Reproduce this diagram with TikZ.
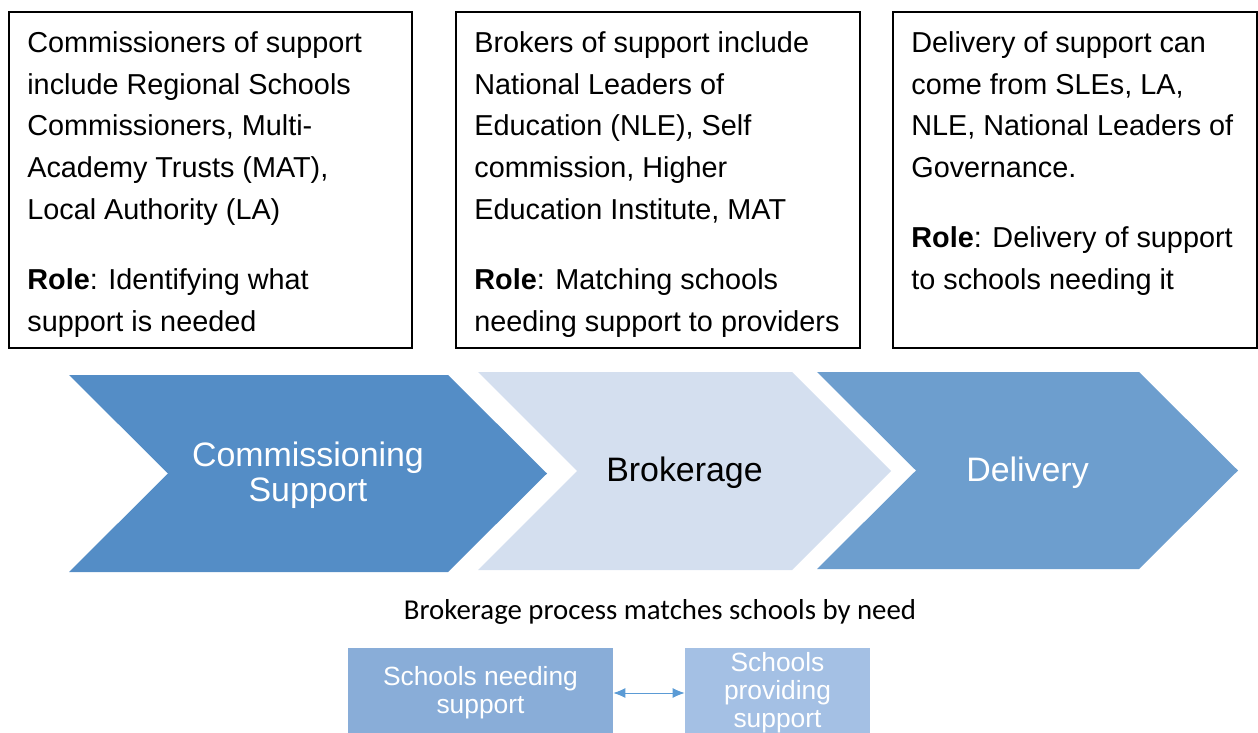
\documentclass[tikz,border=0pt]{standalone}
\usepackage{fontspec}
\setmainfont{Liberation Sans}
\newfontfamily\captionfont{Carlito}
\usetikzlibrary{arrows.meta}
\definecolor{commBlue}{HTML}{548DC6}
\definecolor{brokBlue}{HTML}{D4DFEF}
\definecolor{delivBlue}{HTML}{6D9ECE}
\definecolor{needBlue}{HTML}{89ADD8}
\definecolor{provBlue}{HTML}{A4C0E4}
\definecolor{linkBlue}{HTML}{5B9BD5}
\tikzset{
  infotext/.style={anchor=north west, align=left, inner sep=0pt,
    font=\fontsize{16.4}{23.8}\selectfont},
  stagetext/.style={align=center, inner sep=0pt,
    font=\fontsize{19.3}{19.8}\selectfont},
  schoolbox/.style={align=center, inner sep=0pt, text=white,
    font=\fontsize{15}{15.9}\selectfont}
}
\begin{document}
\begin{tikzpicture}[x=0.02cm, y=-0.02cm]
  \useasboundingbox (0,0) rectangle (1258,733);
  \newcommand{\infoBox}[4]{
    % draws a framed text box at the top
    % args:
    %     name
    %     left x
    %     right x
    %     text
    \draw[line width=0.6pt] (#2,12) rectangle (#3,348);
    \node[infotext] (#1) at (#2+18, 31) {#4};
  }
  \newcommand{\stage}[6]{
    % draws one chevron of the process
    % args:
    %     name
    %     left x
    %     x where the point starts
    %     top y
    %     bottom y
    %     fill colour
    \fill[#6] (#2,#4) -- (#3,#4) -- ({#3+99},{(#4+#5)/2}) -- (#3,#5)
      -- (#2,#5) -- ({#2+99},{(#4+#5)/2}) -- cycle;
    \coordinate (#1) at ({(#2+#3+99)/2},{(#4+#5)/2});
  }
  %
  % top boxes
  \infoBox{commInfo}{9}{412}{Commissioners of support\\include Regional Schools\\
    Commissioners, Multi-\\Academy Trusts (MAT),\\Local Authority (LA)\\[15.9pt]
    \textbf{Role}: Identifying what\\support is needed}
  \infoBox{brokInfo}{456}{860}{Brokers of support include\\National Leaders of\\
    Education (NLE), Self\\commission, Higher\\Education Institute, MAT\\[15.9pt]
    \textbf{Role}: Matching schools\\needing support to providers}
  \infoBox{delivInfo}{893}{1257}{Delivery of support can\\come from SLEs, LA,\\
    NLE, National Leaders of\\Governance.\\[15.9pt]
    \textbf{Role}: Delivery of support\\to schools needing it}
  %
  % chevrons
  \stage{comm}{69}{448}{375}{572}{commBlue}
  \stage{brok}{478}{792}{372}{570}{brokBlue}
  \stage{deliv}{817}{1139}{372}{569}{delivBlue}
  \node[stagetext, text=white] (commLbl) at ([yshift=-2*0.02cm]comm) {Commissioning\\Support};
  \node[stagetext, text=black] (brokLbl) at ([yshift=-2*0.02cm]brok) {Brokerage};
  \node[stagetext, text=white] (delivLbl) at ([yshift=-2*0.02cm]deliv) {Delivery};
  %
  % matching of schools
  \node[font=\captionfont\fontsize{16.4}{18}\selectfont, inner sep=0pt] (match) at (660,612)
    {Brokerage process matches schools by need};
  \node[schoolbox, fill=needBlue, minimum width=265*0.02cm, minimum height=90*0.02cm]
    (need) at (480.5,693) {Schools needing\\support};
  \node[schoolbox, fill=provBlue, minimum width=185*0.02cm, minimum height=90*0.02cm]
    (prov) at (777.5,693) {Schools\\providing\\support};
  \draw[{Latex[length=12*0.02cm,width=10*0.02cm]}-{Latex[length=12*0.02cm,width=10*0.02cm]},
    linkBlue, line width=0.5pt] (need.east) -- (prov.west);
\end{tikzpicture}
\end{document}
